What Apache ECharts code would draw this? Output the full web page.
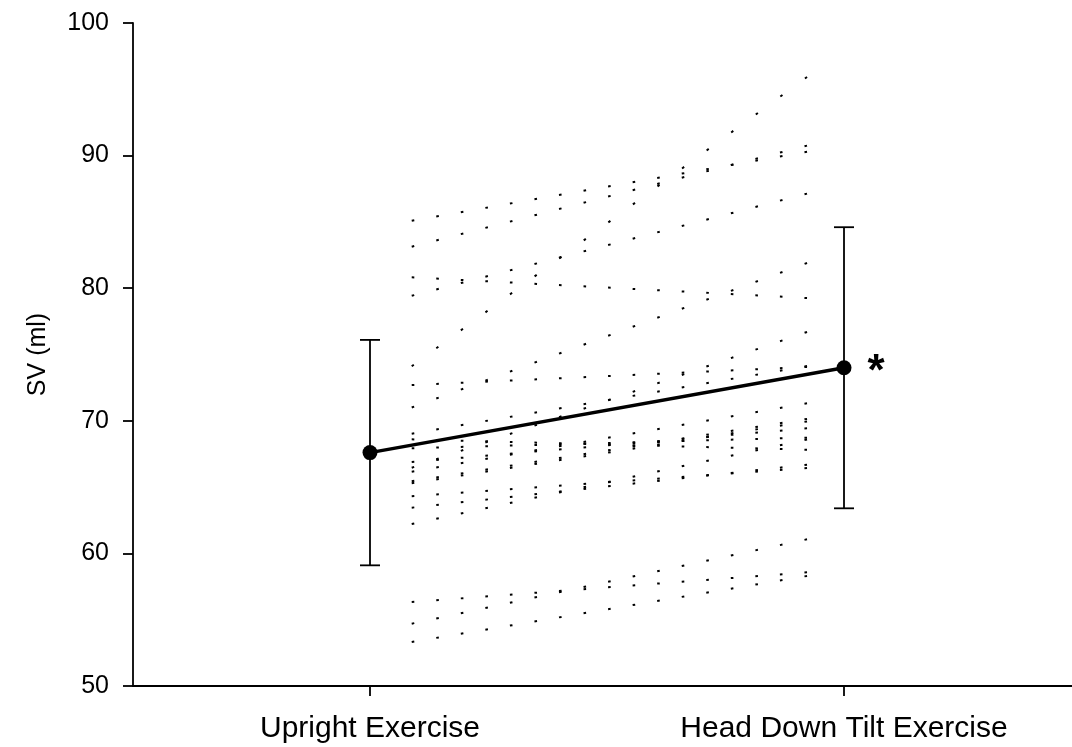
<!DOCTYPE html>
<html>
<head>
<meta charset="utf-8">
<script src="https://cdn.jsdelivr.net/npm/echarts@6/dist/echarts.min.js"></script>
<style>
  html, body { margin: 0; padding: 0; background: #fff; }
  #chart { width: 1072px; height: 747px; }
</style>
</head>
<body>
<div id="chart"></div>
<script>
// Conditions on the x axis
const categories = ['Upright Exercise', 'Head Down Tilt Exercise'];
// Group mean and SD of stroke volume (ml)
const meanSV = [67.6, 74.0];
const sdSV = [8.5, 10.6];
// Significance flag shown next to the group mean
const significant = [false, true];
// Individual subjects: stroke volume (ml) at the start and end of each trace
const uprightSV = [85.09, 83.13, 74.11, 79.43, 80.82, 71.0, 72.7, 66.46, 66.16, 69.03, 68.6,
                   67.93, 66.89, 65.44, 65.29, 64.31, 63.45, 62.22, 56.33, 54.7, 53.32];
const headDownSV = [90.29, 90.75, 95.93, 87.13, 79.26, 81.9, 74.06, 76.7, 71.32, 74.13, 67.82,
                    68.73, 69.43, 70.14, 69.95, 66.44, 66.69, 68.59, 58.57, 61.06, 58.3];
// Y axis range and step
const yRange = [50, 100];
const yStep = 10;

// Subject traces sit between the two condition positions
const TRACE_X = [0.088, 0.922];
const DOTS_PER_TRACE = 17;
const DOT_LEN = 2.6;

const FONT = "'Liberation Sans', Arial, Helvetica, sans-serif";
const BLACK = '#000';

const chart = echarts.init(document.getElementById('chart'), null, { renderer: 'canvas' });

function subjectSeries(dashes) {
  return uprightSV.map((u, i) => ({
    type: 'line',
    name: 'subject' + (i + 1),
    silent: true,
    animation: false,
    symbol: 'none',
    z: 1,
    data: [[TRACE_X[0], u], [TRACE_X[1], headDownSV[i]]],
    lineStyle: {
      color: BLACK,
      width: 2,
      cap: 'butt',
      type: dashes ? dashes[i] : 'dotted'
    }
  }));
}

const axisStyle = { color: BLACK, width: 1.8 };

const option = {
  animation: false,
  backgroundColor: '#fff',
  grid: { left: 133, right: 0, top: 23, bottom: 61, containLabel: false, outerBoundsMode: 'none' },
  xAxis: {
    type: 'value',
    min: -0.5,
    max: 1.481,
    splitLine: { show: false },
    axisLine: { show: true, onZero: false, lineStyle: axisStyle },
    axisTick: { show: true, customValues: [0, 1], length: 10, lineStyle: axisStyle },
    axisLabel: {
      customValues: [0, 1],
      formatter: v => categories[Math.round(v)],
      color: BLACK,
      fontFamily: FONT,
      fontSize: 30,
      margin: 28
    }
  },
  yAxis: {
    type: 'value',
    min: yRange[0],
    max: yRange[1],
    interval: yStep,
    name: 'SV (ml)',
    nameLocation: 'middle',
    nameGap: 82,
    nameTextStyle: { color: BLACK, fontFamily: FONT, fontSize: 25 },
    splitLine: { show: false },
    axisLine: { show: true, onZero: false, lineStyle: axisStyle },
    axisTick: { show: true, length: 10, lineStyle: axisStyle },
    axisLabel: { color: BLACK, fontFamily: FONT, fontSize: 25, margin: 24 }
  },
  series: [
    ...subjectSeries(null),
    {
      // SD error bars with caps
      type: 'custom',
      name: 'sd',
      silent: true,
      z: 3,
      data: meanSV.map((m, i) => [i, m - sdSV[i], m + sdSV[i]]),
      encode: { x: 0, y: [1, 2] },
      renderItem: (params, api) => {
        const x = api.value(0);
        const lo = api.coord([x, api.value(1)]);
        const hi = api.coord([x, api.value(2)]);
        const w = 10;
        const style = { stroke: BLACK, lineWidth: 1.8 };
        return {
          type: 'group',
          children: [
            { type: 'line', shape: { x1: lo[0], y1: lo[1], x2: hi[0], y2: hi[1] }, style },
            { type: 'line', shape: { x1: lo[0] - w, y1: lo[1], x2: lo[0] + w, y2: lo[1] }, style },
            { type: 'line', shape: { x1: hi[0] - w, y1: hi[1], x2: hi[0] + w, y2: hi[1] }, style }
          ]
        };
      }
    },
    {
      // Group means
      type: 'line',
      name: 'mean',
      silent: true,
      z: 4,
      symbol: 'circle',
      symbolSize: 15,
      itemStyle: { color: BLACK },
      lineStyle: { color: BLACK, width: 3.5 },
      data: meanSV.map((m, i) => ({
        value: [i, m],
        label: {
          show: significant[i],
          formatter: '*',
          position: 'right',
          distance: 16,
          offset: [0, 5],
          color: BLACK,
          fontFamily: FONT,
          fontWeight: 'bold',
          fontSize: 44
        }
      }))
    }
  ]
};

chart.setOption(option);

// Space the dots of each subject trace evenly in x across the trace
const dashes = uprightSV.map((u, i) => {
  const p0 = chart.convertToPixel({ gridIndex: 0 }, [TRACE_X[0], u]);
  const p1 = chart.convertToPixel({ gridIndex: 0 }, [TRACE_X[1], headDownSV[i]]);
  const len = Math.hypot(p1[0] - p0[0], p1[1] - p0[1]);
  const period = (len - DOT_LEN) / (DOTS_PER_TRACE - 1);
  return [DOT_LEN, period - DOT_LEN];
});
chart.setOption({ series: subjectSeries(dashes) });
</script>
</body>
</html>
